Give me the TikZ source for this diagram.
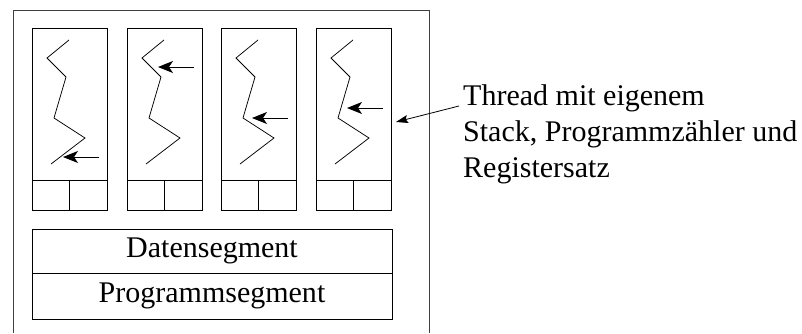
\documentclass[tikz,border=0pt]{standalone}
\usepackage{fontspec}
\setmainfont{Liberation Serif}
\usetikzlibrary{arrows.meta}
\begin{document}
\begin{tikzpicture}[x=1pt,y=-1pt,
  frame/.style={draw, line width=0.9pt, inner sep=0pt, outer sep=0pt},
  zig/.style={line width=0.75pt},
  ptr/.style={line width=1pt, -{Stealth[length=15pt,width=12pt,inset=4pt]}},
  big/.style={font=\fontsize{30}{36}\selectfont},
  lbl/.style={big, inner sep=0pt, anchor=base west}]
\useasboundingbox (0,0) rectangle (802,333);
\draw[line width=1pt, black!75] (13,333) -- (13,10) -- (429,10) -- (429,333);
\foreach \i/\x/\ay in {1/32/129, 2/127/39, 3/221/90, 4/316/80} {
  \node[frame, minimum width=75pt, minimum height=152pt, anchor=north west] (s\i) at (\x,28) {};
  \node[frame, minimum width=37.5pt, minimum height=30pt, anchor=north west] (ra\i) at (s\i.south west) {};
  \node[frame, minimum width=37.5pt, minimum height=30pt, anchor=north east] (rb\i) at (s\i.south east) {};
  \draw[zig] ([shift={(37,12)}]s\i.north west) -- ([shift={(15,30)}]s\i.north west)
    -- ([shift={(34,49)}]s\i.north west) -- ([shift={(22,90)}]s\i.north west)
    -- ([shift={(53,110)}]s\i.north west) -- ([shift={(19,136)}]s\i.north west);
  \coordinate (t\i) at ([shift={(67,\ay)}]s\i.north west);
  \coordinate (h\i) at ([shift={(31,\ay)}]s\i.north west);
  \draw[ptr] (t\i) -- (h\i);
}
\node[frame, big, minimum width=360pt, minimum height=44pt, anchor=north west] (ds) at (32,229) {Datensegment};
\node[frame, big, minimum width=360pt, minimum height=46pt, anchor=north west] (ps) at (ds.south west) {Programmsegment};
\node[lbl] (l1) at (463,105) {Thread mit eigenem};
\node[lbl] (l2) at (463,141) {Stack, Programmzähler und};
\node[lbl] (l3) at (463,177) {Registersatz};
\coordinate (ls) at ([shift={(-4,1)}]l1.base west);
\coordinate (lt) at ([shift={(5,94)}]s4.north east);
\draw[line width=0.8pt, -{Stealth[length=12pt,width=8pt,inset=2pt]}] (ls) -- (lt);
\end{tikzpicture}
\end{document}
